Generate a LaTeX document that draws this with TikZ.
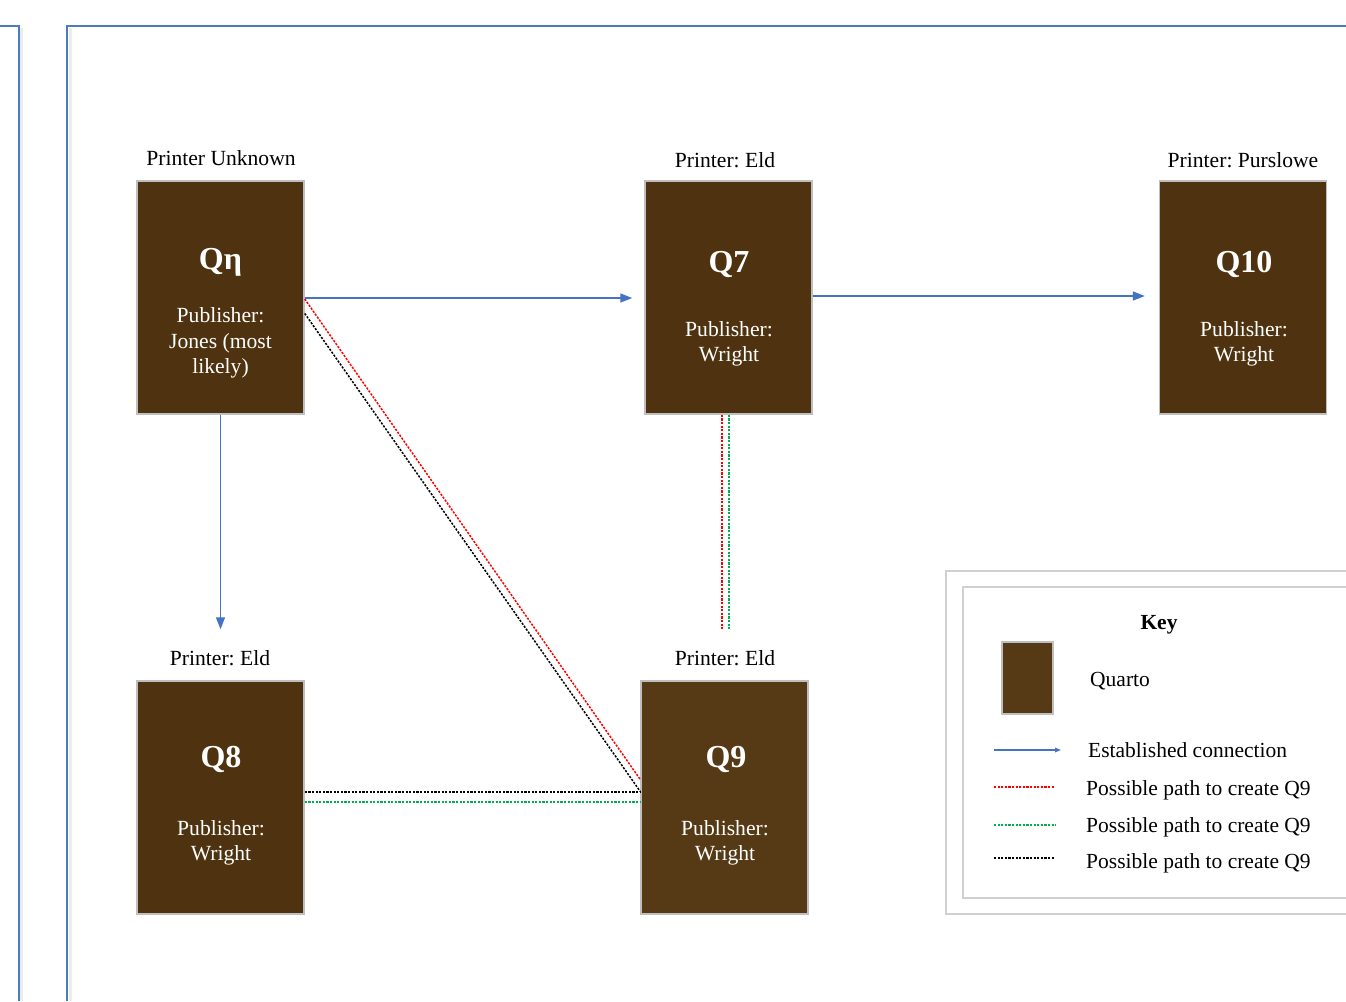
\documentclass[tikz,border=0pt]{standalone}
\usepackage{fontspec}
\setmainfont{Liberation Serif}
\frenchspacing
\usetikzlibrary{arrows.meta}
\definecolor{pageblue}{RGB}{74,126,187}
\definecolor{arrowblue}{RGB}{68,114,196}
\definecolor{boxbrown}{RGB}{79,51,16}
\definecolor{boxbrownlight}{RGB}{86,58,21}
\definecolor{boxedge}{RGB}{191,191,191}
\definecolor{keyedge}{RGB}{208,208,208}
\definecolor{dotred}{RGB}{255,0,0}
\definecolor{dotgreen}{RGB}{0,176,80}
\tikzset{
  quarto/.style={rectangle, fill=boxbrown, draw=boxedge, line width=1.5pt,
    minimum width=167pt, minimum height=233pt, inner sep=0pt},
  printerlabel/.style={anchor=base, font=\fontsize{21.6}{25}\selectfont, inner sep=0pt},
  qtitle/.style={anchor=base, text=white, font=\fontsize{32}{36}\selectfont\bfseries, inner sep=0pt},
  pubtext/.style={anchor=center, text=white, align=center, font=\fontsize{21.6}{25.5}\selectfont, inner sep=0pt},
  established/.style={draw=arrowblue, line width=1.6pt, -{Triangle[length=12pt,width=9pt]}},
  pathdot/.style={line width=1.5pt, dash pattern=on 2.2pt off 1.4pt},
  keytext/.style={anchor=base west, font=\fontsize{21.5}{25}\selectfont, inner sep=0pt},
}
\begin{document}
\begin{tikzpicture}[x=1pt,y=-1pt]
\useasboundingbox (0,0) rectangle (1346,1001);
\fill[white] (0,0) rectangle (1346,1001);

% page borders with light shadow
\draw[gray!15, line width=3pt] (21.5,28) -- (21.5,1001);
\draw[gray!15, line width=3pt] (70,28) -- (70,1001);
\draw[pageblue, line width=2pt] (0,26) -- (19,26) -- (19,1001);
\draw[pageblue, line width=2pt] (67,1001) -- (67,26) -- (1346,26);

% quartos
\node[quarto] (qeta) at (220.5,297.5) {};
\node[quarto] (q7) at (728.5,297.5) {};
\node[quarto] (q10) at (1243,297.5) {};
\node[quarto] (q8) at (220.5,797.5) {};
\node[quarto, fill=boxbrownlight] (q9) at (724.5,797.5) {};

% printer labels
\node[printerlabel] (qetalab) at (221,165) {Printer Unknown};
\node[printerlabel] (q7lab) at (725,167) {Printer: Eld};
\node[printerlabel] (q10lab) at (1243,167) {Printer: Purslowe};
\node[printerlabel] (q8lab) at (220,665) {Printer: Eld};
\node[printerlabel] (q9lab) at (725,665) {Printer: Eld};

% titles
\node[qtitle] (qetat) at (220.5,269) {Qη};
\node[qtitle] (q7t) at (729,272) {Q7};
\node[qtitle] (q10t) at (1244,272) {Q10};
\node[qtitle] (q8t) at (221,767) {Q8};
\node[qtitle] (q9t) at (726,767) {Q9};

% publishers
\node[pubtext] (qetap) at (220.5,343) {Publisher:\\Jones (most\\likely)};
\node[pubtext] (q7p) at (729,344) {Publisher:\\Wright};
\node[pubtext] (q10p) at (1244,344) {Publisher:\\Wright};
\node[pubtext] (q8p) at (221,843) {Publisher:\\Wright};
\node[pubtext] (q9p) at (725,843) {Publisher:\\Wright};

% established connections
\draw[established, shorten >=12pt] ([yshift=-0.5pt]qeta.east) -- ([yshift=-0.5pt]qeta.east -| q7.west);
\draw[established, shorten >=14pt] ([yshift=1.5pt]q7.east) -- ([yshift=1.5pt]q7.east -| q10.west);
\draw[established, shorten >=51pt] (qeta.south) -- (q8.north);

% possible paths
\draw[pathdot, dotred] ([yshift=-1.5pt]qeta.east) -- ([yshift=18pt]q9.west);
\draw[pathdot, black] ([yshift=-16pt]qeta.east) -- ([yshift=6pt]q9.west);
\draw[pathdot, black] ([yshift=5.5pt]q8.east) -- ([yshift=5.5pt]q9.west);
\draw[pathdot, dotgreen] ([yshift=-4.5pt]q8.east) -- ([yshift=-4.5pt]q9.west);
\coordinate (vr) at ([xshift=-6.5pt]q7.south);
\coordinate (vg) at ([xshift=0.5pt]q7.south);
\draw[pathdot, dotred, shorten >=51pt] (vr) -- (vr |- q9.north);
\draw[pathdot, dotgreen, shorten >=51pt] (vg) -- (vg |- q9.north);

% key
\draw[keyedge, line width=1.5pt] (1346,571) -- (946,571) -- (946,914) -- (1346,914);
\draw[keyedge, line width=1.5pt] (1346,587) -- (963,587) -- (963,898) -- (1346,898);
\node[anchor=base, font=\fontsize{21.5}{25}\selectfont\bfseries, inner sep=0pt] (keytitle) at (1159,629) {Key};
\node[quarto, fill=boxbrownlight, minimum width=51pt, minimum height=72pt] (keybox) at (1027.5,678) {};
\node[keytext] (kquarto) at (1090,686) {Quarto};
\coordinate (k1a) at (994,750);
\coordinate (k1b) at (1061,750);
\draw[draw=arrowblue, line width=1.4pt, -{Triangle[length=6pt,width=4.5pt]}] (k1a) -- (k1b);
\node[keytext] (kest) at (1088,757) {Established connection};
\coordinate (k2a) at (994,787);
\coordinate (k2b) at (1055,787);
\draw[pathdot, dotred] (k2a) -- (k2b);
\node[keytext] (kred) at (1086,795) {Possible path to create Q9};
\coordinate (k3a) at (994,825);
\coordinate (k3b) at (1056,825);
\draw[pathdot, dotgreen] (k3a) -- (k3b);
\node[keytext] (kgreen) at (1086,832) {Possible path to create Q9};
\coordinate (k4a) at (994,858);
\coordinate (k4b) at (1055,858);
\draw[pathdot, black] (k4a) -- (k4b);
\node[keytext] (kblack) at (1086,868) {Possible path to create Q9};
\end{tikzpicture}
\end{document}
